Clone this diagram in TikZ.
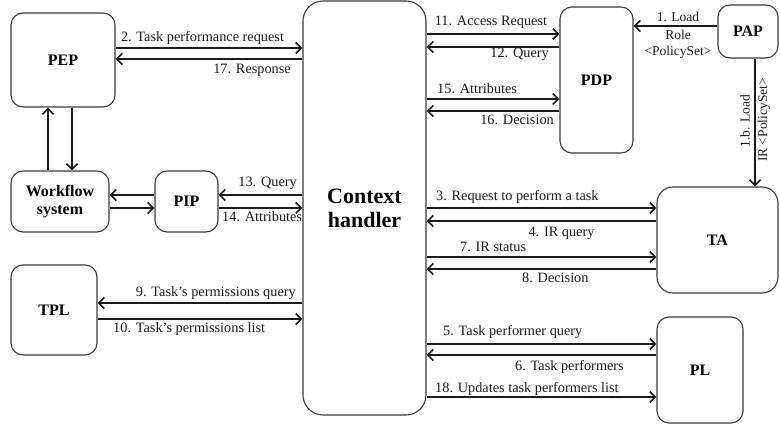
\documentclass[tikz,border=0pt]{standalone}
\usepackage{fontspec}
\setmainfont{Liberation Serif}
\usetikzlibrary{arrows.meta}
\definecolor{boxline}{HTML}{3A3A3A}
\definecolor{arrline}{HTML}{1A1A1A}
\begin{document}
\begin{tikzpicture}[x=1pt,y=-1pt,
  box/.style={draw=boxline, line width=1.1pt, rounded corners=12pt, fill=white,
    inner sep=0pt, align=center, font=\fontsize{16}{18}\selectfont\bfseries},
  arr/.style={draw=arrline, line width=1.2pt,
    -{Straight Barb[length=5.5pt,width=11pt,line width=1.7pt]}},
  lbl/.style={font=\fontsize{14.3}{16}\selectfont, inner sep=0pt, text=arrline},
  slbl/.style={font=\fontsize{13.5}{15}\selectfont, inner sep=0pt, text=arrline},
]
\useasboundingbox (0,0) rectangle (780,425);

% components
\node[box, minimum width=104pt, minimum height=94pt]  (PEP) at (63,60) {PEP};
\node[box, minimum width=98pt,  minimum height=61pt]  (WS)  at (60,201.5) {Workflow\\system};
\node[box, minimum width=63pt,  minimum height=61pt]  (PIP) at (186.5,201.5) {PIP};
\node[box, minimum width=86pt,  minimum height=90pt]  (TPL) at (54,310) {TPL};
\node[box, minimum width=123pt, minimum height=414pt, rounded corners=20pt,
      font=\fontsize{22}{24}\selectfont\bfseries] (CH) at (364.5,208) {Context\\handler};
\node[box, minimum width=73pt,  minimum height=146pt] (PDP) at (596.5,80) {PDP};
\node[box, minimum width=60pt,  minimum height=53pt]  (PAP) at (748,31.5) {PAP};
\node[box, minimum width=121pt, minimum height=106pt, rounded corners=16pt] (TA) at (717.5,240) {TA};
\node[box, minimum width=86pt,  minimum height=106pt] (PL)  at (700,370) {PL};

% PEP <-> workflow system
\draw[arr] (48,0 |- WS.north) -- (48,0 |- PEP.south);
\draw[arr] (72,0 |- PEP.south) -- (72,0 |- WS.north);

% workflow system <-> PIP <-> context handler
\draw[arr] (PIP.west |- 0,195) -- (WS.east |- 0,195);
\draw[arr] (WS.east |- 0,208) -- (PIP.west |- 0,208);
\draw[arr] (CH.west |- 0,195) -- (PIP.east |- 0,195);
\draw[arr] (PIP.east |- 0,208) -- (CH.west |- 0,208);

% PEP <-> context handler
\draw[arr] (PEP.east |- 0,48) -- (CH.west |- 0,48);
\draw[arr] (CH.west |- 0,59) -- (PEP.east |- 0,59);

% TPL <-> context handler
\draw[arr] (CH.west |- 0,303) -- (TPL.east |- 0,303);
\draw[arr] (TPL.east |- 0,319) -- (CH.west |- 0,319);

% context handler <-> PDP
\draw[arr] (CH.east |- 0,34) -- (PDP.west |- 0,34);
\draw[arr] (PDP.west |- 0,47) -- (CH.east |- 0,47);
\draw[arr] (CH.east |- 0,99) -- (PDP.west |- 0,99);
\draw[arr] (PDP.west |- 0,111) -- (CH.east |- 0,111);

% context handler <-> TA
\draw[arr] (CH.east |- 0,208) -- (TA.west |- 0,208);
\draw[arr] (TA.west |- 0,221) -- (CH.east |- 0,221);
\draw[arr] (CH.east |- 0,257) -- (TA.west |- 0,257);
\draw[arr] (TA.west |- 0,269) -- (CH.east |- 0,269);

% context handler <-> PL
\draw[arr] (CH.east |- 0,344) -- (PL.west |- 0,344);
\draw[arr] (PL.west |- 0,355) -- (CH.east |- 0,355);
\draw[arr] (CH.east |- 0,397) -- (PL.west |- 0,397);

% PAP loads policies
\draw[arr] (PAP.west |- 0,26) -- (PDP.east |- 0,26);
\draw[arr] (755,0 |- PAP.south) -- (755,0 |- TA.north);

% message labels
\node[lbl] (l2)  at (202.5,38) {2. Task performance request};
\node[lbl, anchor=east] (l17) at (291,70) {17. Response};
\node[lbl, anchor=east] (l13) at (297,183) {13. Query};
\node[lbl, anchor=west] (l14) at (222,217) {14. Attributes};
\node[lbl, anchor=east] (l9)  at (296,293) {9. Task’s permissions query};
\node[lbl, anchor=west] (l10) at (113,329) {10. Task’s permissions list};

\node[lbl] (l11) at (491,22) {11. Access Request};
\node[lbl, anchor=east] (l12) at (549,54) {12. Query};
\node[lbl, anchor=west] (l15) at (437,89) {15. Attributes};
\node[lbl, anchor=east] (l16) at (554,120) {16. Decision};

\node[slbl] (l1a) at (678,17) {1. Load};
\node[slbl] (l1b) at (678,35) {Role};
\node[slbl] (l1c) at (678,52) {<PolicySet>};
\node[slbl, rotate=90] (l1d) at (745,121) {1.b. Load};
\node[slbl, rotate=90] (l1e) at (764,120) {IR <PolicySet>};

\node[lbl, anchor=west] (l3) at (436,197) {3. Request to perform a task};
\node[lbl] (l4) at (561.5,233) {4. IR query};
\node[lbl, anchor=west] (l7) at (460,247) {7. IR status};
\node[lbl, anchor=west] (l8) at (522,278) {8. Decision};

\node[lbl, anchor=west] (l5)  at (443,332) {5. Task performer query};
\node[lbl, anchor=east] (l6)  at (624,367) {6. Task performers};
\node[lbl, anchor=west] (l18) at (435,389) {18. Updates task performers list};
\end{tikzpicture}
\end{document}
